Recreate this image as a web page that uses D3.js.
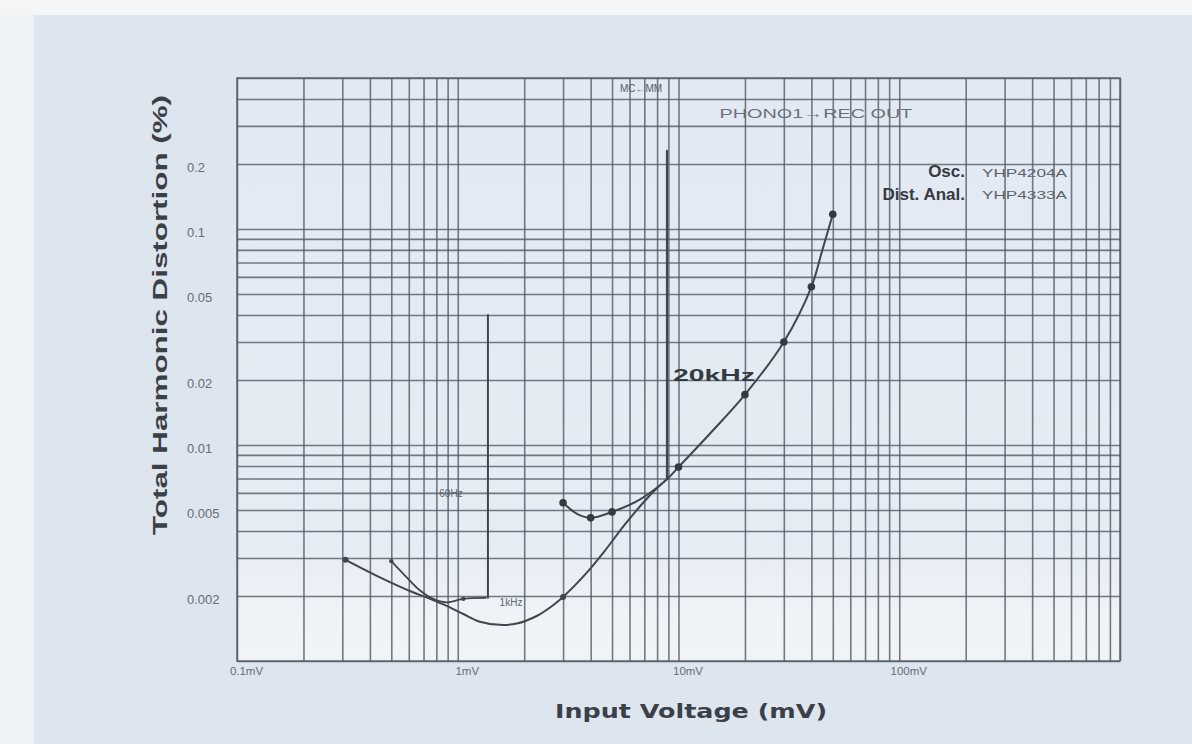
<!DOCTYPE html>
<html>
<head>
<meta charset="utf-8">
<script src="https://cdn.jsdelivr.net/npm/d3@7"></script>
<style>
  html, body { margin: 0; padding: 0; background: #dde5ef; }
  svg { display: block; }
</style>
</head>
<body>
<svg id="chart" width="1192" height="744"></svg>
<script>
// Input voltage (mV) vs total harmonic distortion (%), PHONO 1 -> REC OUT

// axis ticks
const xTickValues = [0.1, 1, 10, 100];
const xTickLabels = ["0.1mV", "1mV", "10mV", "100mV"];
const yTickValues = [0.2, 0.1, 0.05, 0.02, 0.01, 0.005, 0.002];
const yTickLabels = ["0.2", "0.1", "0.05", "0.02", "0.01", "0.005", "0.002"];

// 60 Hz curve [mV, %] and its overload rise
const curve60Hz = [[0.5, 0.0029], [0.587, 0.00244], [0.675, 0.00212], [0.773, 0.00194],
  [0.891, 0.00187], [1.06, 0.00194], [1.34, 0.00196]];
const rise60Hz = [[1.37, 0.00196], [1.37, 0.040]];

// 1 kHz curve [mV, %] and its overload rise
const curve1kHz = [[0.31, 0.00294], [0.444, 0.00244], [0.627, 0.00208], [0.749, 0.00194],
  [0.891, 0.0018], [1.06, 0.00165], [1.26, 0.00152], [1.55, 0.00147], [1.85, 0.00149],
  [2.29, 0.00162], [2.62, 0.00177], [3, 0.00198], [3.77, 0.00251], [4.65, 0.00325],
  [5.72, 0.00429], [7.43, 0.00585], [8.87, 0.00695]];
const rise1kHz = [[8.87, 0.00695], [8.87, 0.23]];

// 20 kHz curve [mV, %]
const curve20kHz = [[3, 0.0054], [3.47, 0.0048], [4, 0.0046], [5, 0.0049], [6.7, 0.0056],
  [8.87, 0.00695], [10, 0.0079], [13.9, 0.0113], [20, 0.0171], [30, 0.030], [40, 0.054],
  [44.7, 0.079], [50, 0.117]];

// measured points
const dots20kHz = [[3, 0.0054], [4, 0.0046], [5, 0.0049], [10, 0.0079], [20, 0.0171],
  [30, 0.030], [40, 0.054], [50, 0.117]];
const dots1kHz = [[0.31, 0.00294], [3, 0.00198]];
const dots60Hz = [[0.5, 0.0029], [1.06, 0.00194]];

const svg = d3.select("#chart");
const W = 1192, H = 744;
const plotLeft = 237, plotRight = 1120, plotTop = 78, plotBottom = 661;

// paper background
const defs = svg.append("defs");
const pg = defs.append("linearGradient").attr("id", "paper").attr("x1", 0).attr("y1", 0).attr("x2", 0).attr("y2", 1);
pg.append("stop").attr("offset", "0%").attr("stop-color", "#e3e9f2");
pg.append("stop").attr("offset", "80%").attr("stop-color", "#e6ecf4");
pg.append("stop").attr("offset", "92%").attr("stop-color", "#eef3f6");
pg.append("stop").attr("offset", "100%").attr("stop-color", "#f0f4f6");

svg.append("rect").attr("width", W).attr("height", H).attr("fill", "#dde5ef");
svg.append("rect").attr("width", 34).attr("height", H).attr("fill", "#eef2f5");
svg.append("rect").attr("width", W).attr("height", 15).attr("fill", "#f3f5f7");
svg.append("rect").attr("x", plotLeft).attr("y", plotTop).attr("width", plotRight - plotLeft)
  .attr("height", plotBottom - plotTop).attr("fill", "url(#paper)");

const x = d3.scaleLog().domain([0.1, 1000]).range([plotLeft, plotRight]);
const y = d3.scaleLog().domain([0.001, 0.5]).range([plotBottom, plotTop]);

// log-paper grid lines
const gridX = [];
[0.1, 1, 10, 100].forEach(d => d3.range(1, 10).forEach(m => gridX.push(d * m)));
gridX.push(1000);
const gridY = [];
[0.001, 0.01, 0.1].forEach(d => d3.range(1, 10).forEach(m => { if (d * m <= 0.5) gridY.push(d * m); }));

const gridColor = "#535a67";
const gx = svg.append("g").attr("transform", `translate(0,${plotBottom})`)
  .call(d3.axisBottom(x).tickValues(gridX).tickSize(-(plotBottom - plotTop)).tickFormat(""));
gx.select(".domain").remove();
gx.selectAll("line").attr("stroke", gridColor).attr("stroke-width", 1.6).attr("stroke-opacity", 0.8);

const gy = svg.append("g").attr("transform", `translate(${plotLeft},0)`)
  .call(d3.axisLeft(y).tickValues(gridY).tickSize(-(plotRight - plotLeft)).tickFormat(""));
gy.select(".domain").remove();
gy.selectAll("line").attr("stroke", gridColor).attr("stroke-width", 1.6).attr("stroke-opacity", 0.8);

// frame
svg.append("rect").attr("x", plotLeft).attr("y", plotTop).attr("width", plotRight - plotLeft)
  .attr("height", plotBottom - plotTop)
  .attr("fill", "none").attr("stroke", gridColor).attr("stroke-width", 1.6).attr("stroke-opacity", 0.8);

// tick labels
const tickFont = "'Liberation Sans', Arial, sans-serif";
const ax = svg.append("g").attr("transform", `translate(0,${plotBottom})`)
  .call(d3.axisBottom(x).tickValues(xTickValues).tickSize(0).tickPadding(6)
    .tickFormat((d, i) => xTickLabels[i]));
ax.select(".domain").remove();
ax.selectAll("text").attr("dx", 9).attr("font-family", tickFont).attr("font-size", 11.5)
  .attr("fill", "#666c77");

const ay = svg.append("g").attr("transform", `translate(${plotLeft},0)`)
  .call(d3.axisLeft(y).tickValues(yTickValues).tickSize(0)
    .tickFormat((d, i) => yTickLabels[i]));
ay.select(".domain").remove();
ay.selectAll("text").attr("x", -50).attr("text-anchor", "start").attr("dy", "0.6em")
  .attr("font-family", tickFont).attr("font-size", 13).attr("fill", "#666c77");

// curves
const curveColor = "#40454e";
const smooth = d3.line().x(d => x(d[0])).y(d => y(d[1])).curve(d3.curveCatmullRom.alpha(0.5));
const straight = d3.line().x(d => x(d[0])).y(d => y(d[1]));

const plot = svg.append("g").attr("fill", "none").attr("stroke", curveColor).attr("stroke-linecap", "round");
plot.append("path").attr("d", smooth(curve1kHz)).attr("stroke-width", 2);
plot.append("path").attr("d", straight(rise1kHz)).attr("stroke-width", 2.2);
plot.append("path").attr("d", smooth(curve60Hz)).attr("stroke-width", 1.8);
plot.append("path").attr("d", straight(rise60Hz)).attr("stroke-width", 2);
plot.append("path").attr("d", smooth(curve20kHz)).attr("stroke-width", 2);

svg.append("g").selectAll("circle").data(dots20kHz).join("circle")
  .attr("cx", d => x(d[0])).attr("cy", d => y(d[1])).attr("r", 3.8).attr("fill", "#353a42");
svg.append("g").selectAll("circle").data(dots1kHz).join("circle")
  .attr("cx", d => x(d[0])).attr("cy", d => y(d[1])).attr("r", 3).attr("fill", "#40454e");
svg.append("g").selectAll("circle").data(dots60Hz).join("circle")
  .attr("cx", d => x(d[0])).attr("cy", d => y(d[1])).attr("r", 2.2).attr("fill", "#40454e");

// annotations
const sans = "'Liberation Sans', Arial, sans-serif";
svg.append("text").attr("x", 641).attr("y", 92).attr("text-anchor", "middle")
  .attr("font-family", sans).attr("font-size", 10).attr("fill", "#565c66").text("MC←MM");
svg.append("text").attr("x", 816).attr("y", 118).attr("text-anchor", "middle")
  .attr("font-family", sans).attr("font-size", 12.5).attr("fill", "#6a707b")
  .attr("textLength", 193).attr("lengthAdjust", "spacingAndGlyphs").text("PHONO1→REC OUT");

svg.append("text").attr("x", 965).attr("y", 177).attr("text-anchor", "end")
  .attr("font-family", sans).attr("font-weight", "bold").attr("font-size", 17).attr("fill", "#363b43").text("Osc.");
svg.append("text").attr("x", 965).attr("y", 200).attr("text-anchor", "end")
  .attr("font-family", sans).attr("font-weight", "bold").attr("font-size", 17).attr("fill", "#363b43").text("Dist. Anal.");
svg.append("text").attr("x", 982).attr("y", 177).attr("font-family", sans).attr("font-size", 11)
  .attr("fill", "#5d636d").attr("textLength", 85).attr("lengthAdjust", "spacingAndGlyphs").text("YHP4204A");
svg.append("text").attr("x", 982).attr("y", 199).attr("font-family", sans).attr("font-size", 11)
  .attr("fill", "#5d636d").attr("textLength", 85).attr("lengthAdjust", "spacingAndGlyphs").text("YHP4333A");

svg.append("text").attr("x", 714).attr("y", 381).attr("text-anchor", "middle")
  .attr("font-family", sans).attr("font-weight", "bold").attr("font-size", 17).attr("fill", "#353a42")
  .attr("textLength", 82).attr("lengthAdjust", "spacingAndGlyphs").text("20kHz");
svg.append("text").attr("x", 451).attr("y", 497).attr("text-anchor", "middle")
  .attr("font-family", sans).attr("font-size", 10).attr("fill", "#5d636d").text("60Hz");
svg.append("text").attr("x", 511).attr("y", 606).attr("text-anchor", "middle")
  .attr("font-family", sans).attr("font-size", 10).attr("fill", "#5d636d").text("1kHz");

// axis titles
svg.append("text").attr("x", 691).attr("y", 718).attr("text-anchor", "middle")
  .attr("font-family", "'DejaVu Sans', sans-serif").attr("font-weight", "bold").attr("font-size", 20)
  .attr("fill", "#3b4048").attr("textLength", 272).attr("lengthAdjust", "spacingAndGlyphs")
  .text("Input Voltage (mV)");
svg.append("text").attr("transform", "translate(167,315) rotate(-90)").attr("text-anchor", "middle")
  .attr("font-family", sans).attr("font-weight", "bold").attr("font-size", 21)
  .attr("fill", "#3b4048").attr("textLength", 440).attr("lengthAdjust", "spacingAndGlyphs")
  .text("Total Harmonic Distortion (%)");
</script>
</body>
</html>
